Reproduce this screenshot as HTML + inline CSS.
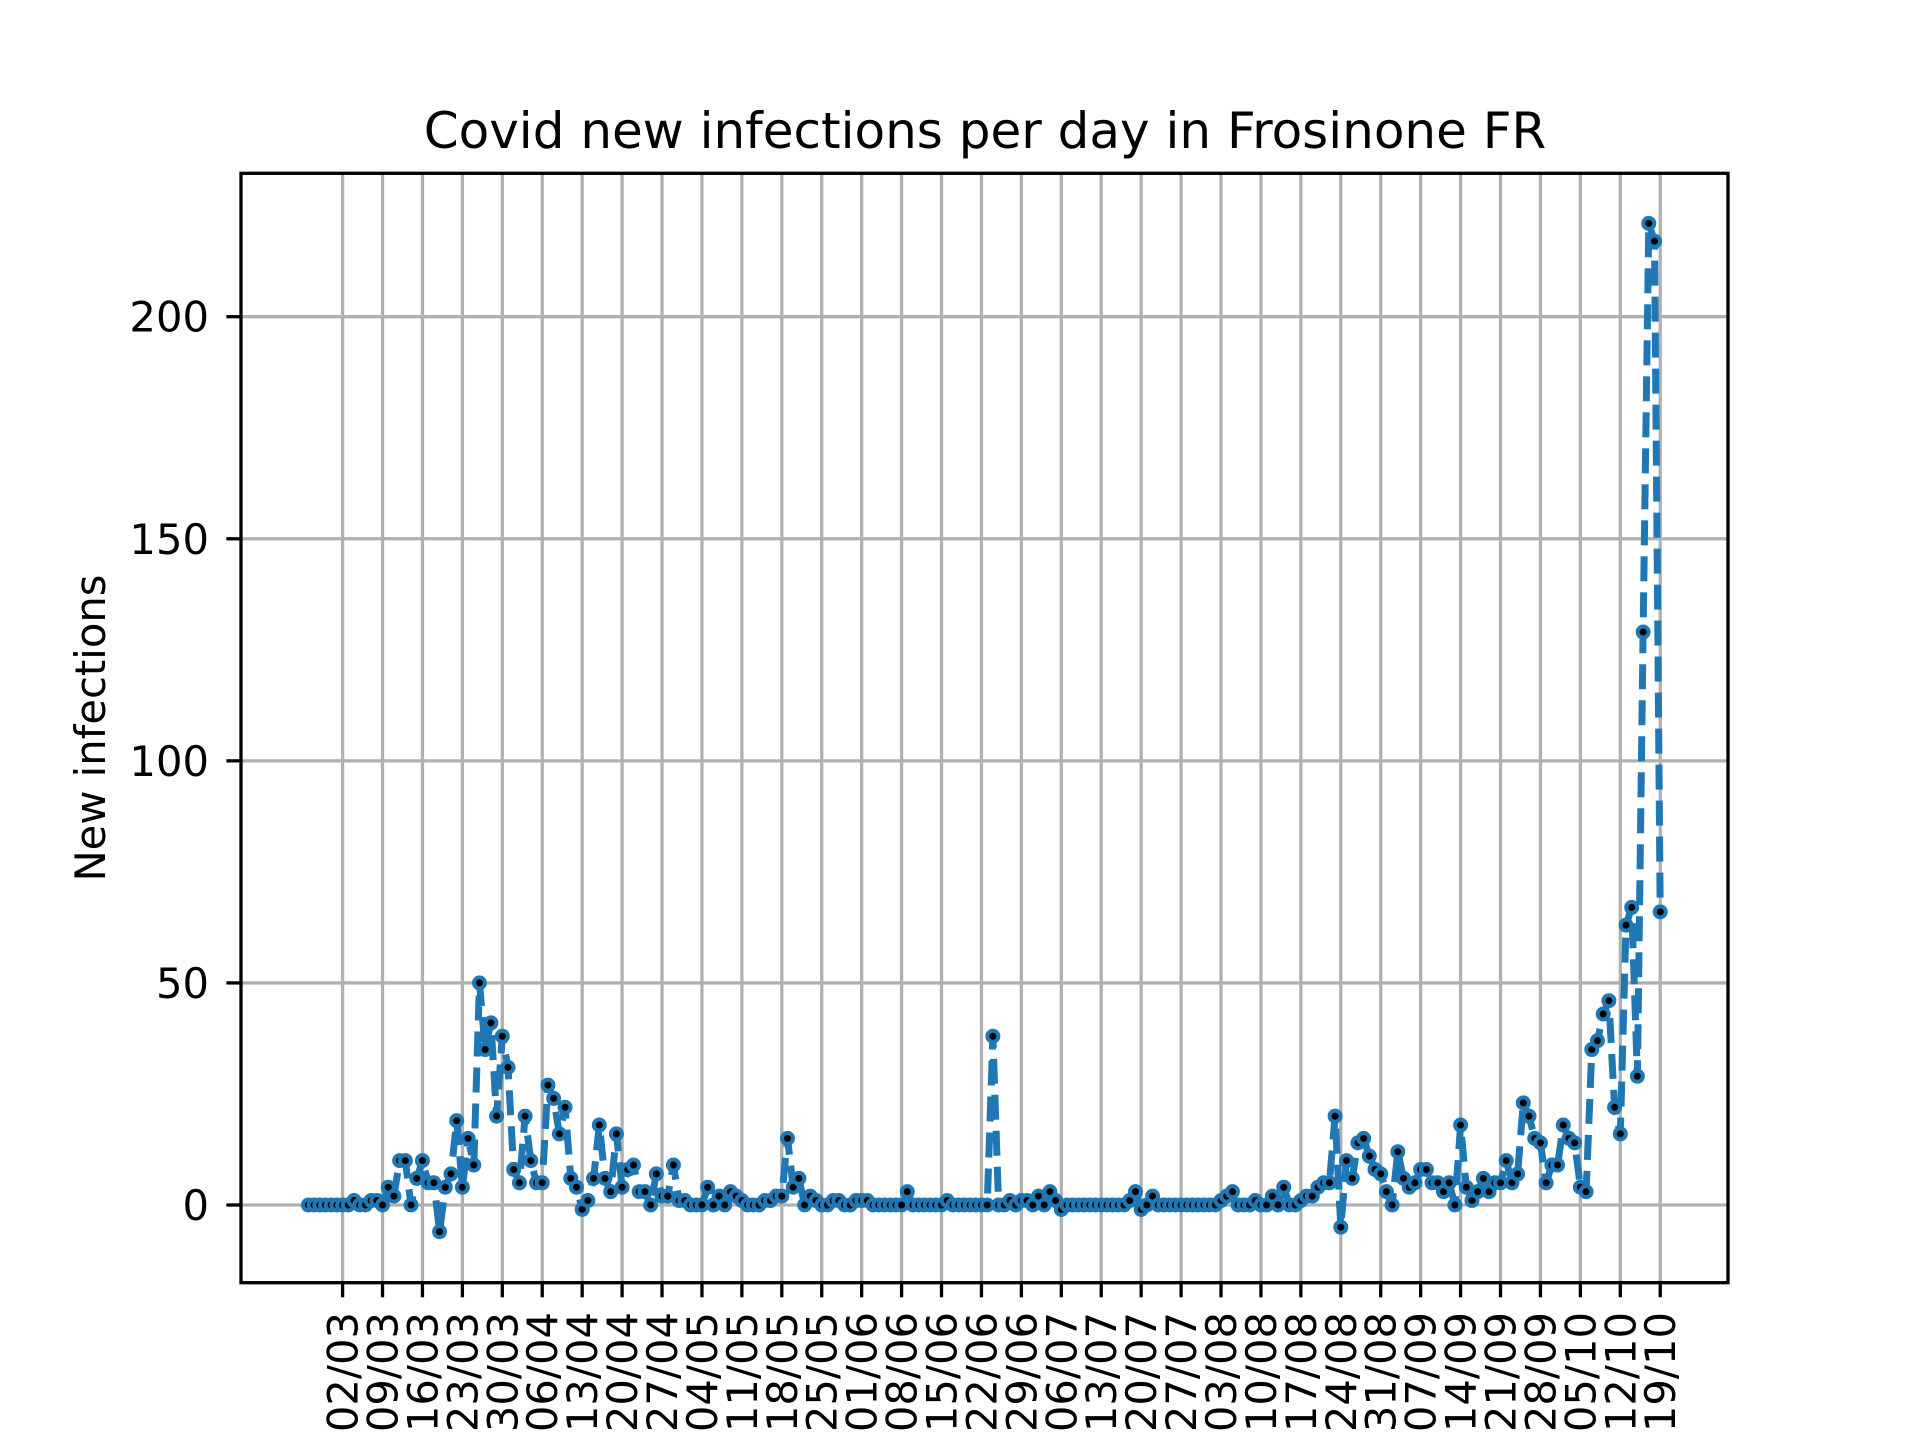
<!DOCTYPE html>
<html><head><meta charset="utf-8"><style>
html,body{margin:0;padding:0;background:#fff;}
svg{display:block;font-family:"DejaVu Sans","Liberation Sans",sans-serif;}
</style></head><body>
<svg id="chart" width="1920" height="1440" viewBox="0 0 1920 1440" xmlns="http://www.w3.org/2000/svg">
<rect width="1920" height="1440" fill="#fff"/>
<text x="985" y="148" font-size="50" text-anchor="middle" fill="#000">Covid new infections per day in Frosinone FR</text>
<text transform="translate(105,728) rotate(-90)" font-size="41.7" text-anchor="middle" fill="#000">New infections</text>
<g id="grid"></g>
<g id="series"></g>
<rect x="241" y="173.3" width="1487" height="1109.4" fill="none" stroke="#000" stroke-width="3.3"/>
<g id="axes"></g>
</svg>
<script>
const tickLabels = ["02/03","09/03","16/03","23/03","30/03","06/04","13/04","20/04","27/04","04/05","11/05","18/05","25/05","01/06","08/06","15/06","22/06","29/06","06/07","13/07","20/07","27/07","03/08","10/08","17/08","24/08","31/08","07/09","14/09","21/09","28/09","05/10","12/10","19/10"];
const tickIndex = [6,13,20,27,34,41,48,55,62,69,76,83,90,97,104,111,118,125,132,139,146,153,160,167,174,181,188,195,202,209,216,223,230,237];
const yTicks = [0,50,100,150,200];
const values = [
0,0,0,0,0,0,0,0,1,0,0,1,1,0,4,2,10,10,0,6,
10,5,5,-6,4,7,19,4,15,9,50,35,41,20,38,31,8,5,20,10,
5,5,27,24,16,22,6,4,-1,1,6,18,6,3,16,4,8,9,3,3,
0,7,2,2,9,1,1,0,0,0,4,0,2,0,3,2,1,0,0,0,
1,1,2,2,15,4,6,0,2,1,0,0,1,1,0,0,1,1,1,0,
0,0,0,0,0,3,0,0,0,0,0,0,1,0,0,0,0,0,0,0,
38,0,0,1,0,1,1,0,2,0,3,1,-1,0,0,0,0,0,0,0,
0,0,0,0,1,3,-1,0,2,0,0,0,0,0,0,0,0,0,0,0,
1,2,3,0,0,0,1,0,0,2,0,4,0,0,1,2,2,4,5,5,
20,-5,10,6,14,15,11,8,7,3,0,12,6,4,5,8,8,5,5,3,
5,0,18,4,1,3,6,3,5,5,10,5,7,23,20,15,14,5,9,9,
18,15,14,4,3,35,37,43,46,22,16,63,67,29,129,221,217,66
];
const NS="http://www.w3.org/2000/svg";
function xs(i){return 342.6+5.704*(i-6);}
function ys(v){return 1205-4.4415*v;}
function mk(tag,attrs,parent){const e=document.createElementNS(NS,tag);for(const k in attrs)e.setAttribute(k,attrs[k]);parent.appendChild(e);return e;}
const grid=document.getElementById('grid'),axes=document.getElementById('axes'),series=document.getElementById('series');
tickIndex.forEach((ti,k)=>{
  const x=xs(ti);
  const g=mk('line',{x1:x,x2:x,y1:173.3,y2:1282.7,stroke:'#b0b0b0','stroke-width':3.3},grid);
  
  
  const t=mk('line',{x1:x,x2:x,y1:1282.7,y2:1297.3,stroke:'#000','stroke-width':3.3},axes);
  
  
  const l=mk('text',{transform:`translate(${x+15},1312) rotate(-90)`,'font-size':41.7,'text-anchor':'end',fill:'#000'},axes);
  l.textContent=tickLabels[k];
  
  
});
yTicks.forEach(v=>{
  const y=ys(v);
  const g=mk('line',{x1:241,x2:1728,y1:y,y2:y,stroke:'#b0b0b0','stroke-width':3.3},grid);
  
  
  const t=mk('line',{x1:226.4,x2:241,y1:y,y2:y,stroke:'#000','stroke-width':3.3},axes);
  
  
  const l=mk('text',{x:209,y:y+15,'font-size':41.7,'text-anchor':'end',fill:'#000'},axes);
  l.textContent=String(v);
  
  
});
const pts=values.map((v,i)=>xs(i).toFixed(1)+','+ys(v).toFixed(1)).join(' ');
const line=mk('polyline',{points:pts,fill:'none',stroke:'#1f77b4','stroke-width':7,'stroke-dasharray':'25,11','stroke-linejoin':'round'},series);


values.forEach((v,i)=>{
  const c=mk('circle',{cx:xs(i),cy:ys(v),r:5.5,fill:'#000',stroke:'#1f77b4','stroke-width':4},series);
  
  
});
</script>
</body></html>
